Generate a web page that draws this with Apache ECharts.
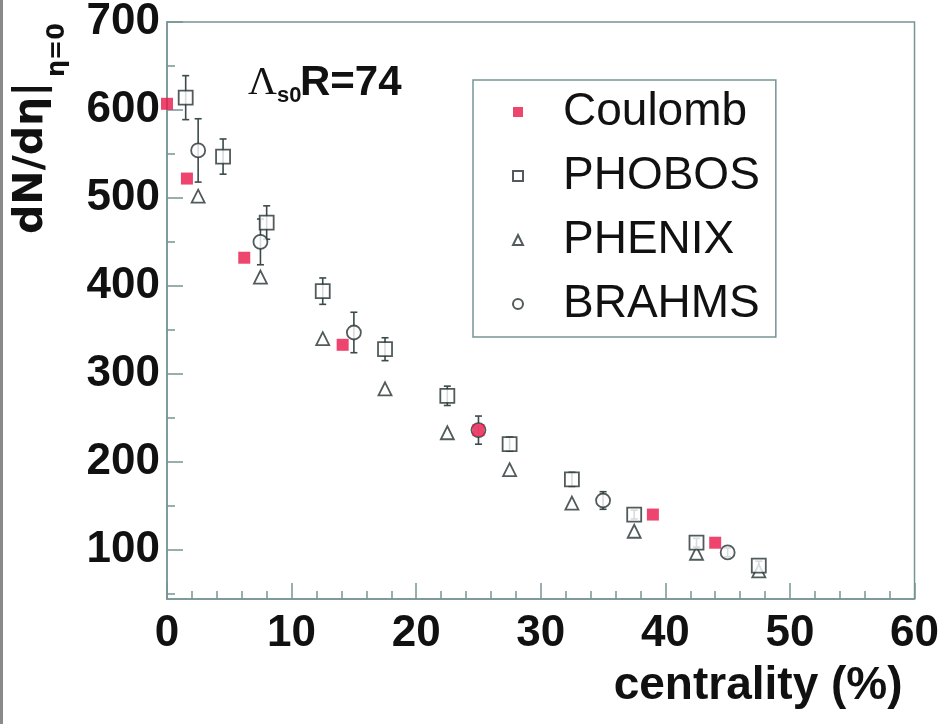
<!DOCTYPE html>
<html>
<head>
<meta charset="utf-8">
<script src="https://cdn.jsdelivr.net/npm/echarts@6/dist/echarts.min.js"></script>
<style>
  html, body { margin: 0; padding: 0; background: #ffffff; }
  #chart { width: 942px; height: 724px; }
</style>
</head>
<body>
<div id="chart"></div>
<script>
// Charged-particle multiplicity at mid-rapidity versus collision centrality
const xTicks = [0, 10, 20, 30, 40, 50, 60];
const yMajorTicks = [100, 200, 300, 400, 500, 600, 700];
const yMinorTicks = [50, 150, 250, 350, 450, 550, 650];

// Coulomb model (Λ_s0 R = 74)
const coulombCentrality = [0, 1.6, 6.2, 14.1, 25.0, 39.0, 44.0];
const coulombDndeta = [607, 522, 432, 333, 236, 140, 108];

// PHOBOS
const phobosCentrality = [1.5, 4.5, 8, 12.5, 17.5, 22.5, 27.5, 32.5, 37.5, 42.5, 47.5];
const phobosDndeta = [614, 547, 472, 394, 328, 275, 220, 180, 140, 108, 82];
const phobosError = [25, 20, 19, 15, 13, 11, 8, 8, 5, 5, 5];

// PHENIX
const phenixCentrality = [2.5, 7.5, 12.5, 17.5, 22.5, 27.5, 32.5, 37.5, 42.5, 47.5];
const phenixDndeta = [502, 410, 340, 283, 233, 191, 153, 121, 96, 76];

// BRAHMS
const brahmsCentrality = [2.5, 7.5, 15, 25, 35, 45];
const brahmsDndeta = [554, 450, 347, 236, 156, 97];
const brahmsError = [36, 26, 23, 16, 10, 5];

const frameColor = '#789494';
const markColor = '#263232';
const barColor = '#3c4a4a';
const red = '#e8174a';
const sans = '"Liberation Sans", Arial, Helvetica, sans-serif';

const pairs = (xs, ys) => xs.map((x, i) => [x, ys[i]]);
const errRows = (xs, ys, es) => xs.map((x, i) => [x, ys[i] - es[i], ys[i] + es[i]]);

// vertical error bar with short end caps
function renderErrorBar(params, api) {
  const lo = api.coord([api.value(0), api.value(1)]);
  const hi = api.coord([api.value(0), api.value(2)]);
  const cap = 3.5;
  const style = { stroke: barColor, lineWidth: 1.6 };
  return {
    type: 'group',
    children: [
      { type: 'line', shape: { x1: lo[0], y1: lo[1], x2: hi[0], y2: hi[1] }, style },
      { type: 'line', shape: { x1: lo[0] - cap, y1: lo[1], x2: lo[0] + cap, y2: lo[1] }, style },
      { type: 'line', shape: { x1: hi[0] - cap, y1: hi[1], x2: hi[0] + cap, y2: hi[1] }, style }
    ]
  };
}

const openMark = { color: '#ffffff', borderColor: markColor, borderWidth: 1.8 };

const chart = echarts.init(document.getElementById('chart'), null, { renderer: 'canvas' });

chart.setOption({
  backgroundColor: '#ffffff',
  animation: false,
  grid: {
    left: 167, right: 25, top: 22, bottom: 125,
    show: true, borderColor: frameColor, borderWidth: 1.5, backgroundColor: 'transparent'
  },
  legend: {
    orient: 'vertical',
    left: 473, top: 80,
    padding: [9, 16, 10, 39],
    itemGap: 18,
    itemWidth: 10, itemHeight: 10,
    borderColor: frameColor, borderWidth: 1.5,
    textStyle: {
      fontFamily: sans, fontSize: 46, color: '#111', lineHeight: 46,
      padding: [0, 0, 0, 35]
    },
    data: ['Coulomb', 'PHOBOS', 'PHENIX', 'BRAHMS']
  },
  xAxis: {
    type: 'value', min: 0, max: 60, interval: 10,
    name: 'centrality (%)',
    nameLocation: 'end', nameGap: 0,
    nameTextStyle: {
      fontFamily: sans, fontWeight: 'bold', fontSize: 46, color: '#111',
      align: 'right', verticalAlign: 'top', padding: [64, 12, 0, 0]
    },
    axisLine: { show: true, lineStyle: { color: frameColor, width: 1.5 } },
    axisTick: { show: true, inside: true, length: 16, lineStyle: { color: frameColor, width: 1.5 } },
    minorTick: { show: true, splitNumber: 5, length: 8, lineStyle: { color: frameColor, width: 1.5 } },
    splitLine: { show: false },
    axisLabel: {
      fontFamily: sans, fontWeight: 'bold', fontSize: 44, color: '#111', margin: 13,
      customValues: xTicks
    }
  },
  yAxis: [
    {
      type: 'value', min: 44, max: 700,
      axisLine: { show: true, lineStyle: { color: frameColor, width: 1.5 } },
      axisTick: { show: true, inside: true, length: 16, customValues: yMajorTicks,
                  lineStyle: { color: frameColor, width: 1.5 } },
      splitLine: { show: false },
      axisLabel: {
        fontFamily: sans, fontWeight: 'bold', fontSize: 44, color: '#111', margin: 7,
        customValues: yMajorTicks
      }
    },
    {
      type: 'value', min: 44, max: 700, position: 'left',
      axisLine: { show: false },
      axisTick: { show: true, inside: true, length: 8, customValues: yMinorTicks,
                  lineStyle: { color: frameColor, width: 1.5 } },
      splitLine: { show: false },
      axisLabel: { show: false }
    }
  ],
  graphic: [
    // left edge rule of the figure panel
    { type: 'line', shape: { x1: 1.5, y1: 0, x2: 1.5, y2: 724 }, style: { stroke: '#8a8a8a', lineWidth: 3 } },
    // y-axis title: dN/dη|_{η=0}
    {
      type: 'group', x: 31, y: 234, rotation: Math.PI / 2,
      children: [
        { type: 'text', x: 0, y: 0,
          style: { text: 'dN/dη|', font: 'bold 41px "DejaVu Sans"', fill: '#111', align: 'left', verticalAlign: 'middle' } },
        { type: 'text', x: 157, y: 27,
          style: { text: 'η=0', font: 'bold 24px "DejaVu Sans"', fill: '#111', align: 'left', verticalAlign: 'middle' } }
      ]
    },
    // model parameter annotation: Λ_s0 R=74
    { type: 'text', x: 248, y: 83,
      style: { text: 'Λ', font: '40px "Liberation Serif", serif', fill: '#111', align: 'left', verticalAlign: 'middle' } },
    { type: 'text', x: 277, y: 96,
      style: { text: 's0', font: 'bold 22px ' + sans, fill: '#111', align: 'left', verticalAlign: 'middle' } },
    { type: 'text', x: 300, y: 83,
      style: { text: 'R=74', font: 'bold 42px ' + sans, fill: '#111', align: 'left', verticalAlign: 'middle' } }
  ],
  series: [
    {
      name: 'PHOBOS-err', type: 'custom', renderItem: renderErrorBar,
      data: errRows(phobosCentrality, phobosDndeta, phobosError), z: 2, silent: true
    },
    {
      name: 'BRAHMS-err', type: 'custom', renderItem: renderErrorBar,
      data: errRows(brahmsCentrality, brahmsDndeta, brahmsError), z: 2, silent: true
    },
    {
      name: 'BRAHMS', type: 'scatter', symbol: 'circle', symbolSize: 14,
      itemStyle: openMark, data: pairs(brahmsCentrality, brahmsDndeta), z: 3
    },
    {
      name: 'PHENIX', type: 'scatter', symbol: 'triangle', symbolSize: 13,
      itemStyle: openMark, data: pairs(phenixCentrality, phenixDndeta), z: 3
    },
    {
      name: 'PHOBOS', type: 'scatter', symbol: 'rect', symbolSize: 14,
      itemStyle: openMark, data: pairs(phobosCentrality, phobosDndeta), z: 4
    },
    {
      name: 'Coulomb', type: 'scatter', symbol: 'rect', symbolSize: 12,
      itemStyle: { color: red }, data: pairs(coulombCentrality, coulombDndeta), z: 5
    }
  ]
});
</script>
</body>
</html>
